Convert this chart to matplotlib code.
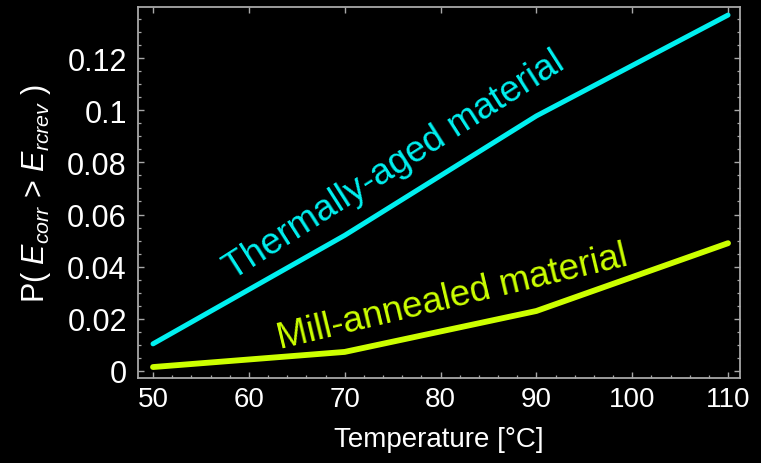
import numpy as np
import matplotlib
matplotlib.use('Agg')
import matplotlib.pyplot as plt
from matplotlib.ticker import MultipleLocator

# данные
temps = [50, 70, 90, 110]
p_aged = [0.0104, 0.052, 0.0978, 0.1365]
p_annealed = [0.0015, 0.0073, 0.023, 0.049]

x_ticks = [50, 60, 70, 80, 90, 100, 110]
y_ticks = [0, 0.02, 0.04, 0.06, 0.08, 0.1, 0.12]
y_tick_labels = ['0', '0.02', '0.04', '0.06', '0.08', '0.1', '0.12']

plt.rcParams['font.family'] = ['Liberation Sans', 'DejaVu Sans']
plt.rcParams['mathtext.fontset'] = 'custom'
plt.rcParams['mathtext.rm'] = 'Liberation Sans'
plt.rcParams['mathtext.it'] = 'Liberation Sans:italic'

W, H = 761, 464
fig = plt.figure(figsize=(W / 100, H / 100), dpi=100, facecolor='black')
ax = fig.add_axes([0.1813, 0.1832, 0.9724 - 0.1813, 0.9828 - 0.1832])
ax.set_facecolor('black')

ax.plot(temps, p_aged, color='#00F0F0', lw=3.6, solid_capstyle='round')
ax.plot(temps, p_annealed, color='#CCFF00', lw=4.2, solid_capstyle='round')

ax.set_xlim(48.43, 111.25)
ax.set_ylim(-0.0027, 0.1396)

ax.set_xticks(x_ticks)
ax.set_yticks(y_ticks)
ax.set_yticklabels(y_tick_labels)
ax.xaxis.set_minor_locator(MultipleLocator(2))
ax.yaxis.set_minor_locator(MultipleLocator(0.005))

frame = '#a8a8a8'
for s in ax.spines.values():
    s.set_color(frame)
    s.set_linewidth(1.3)

ax.tick_params(which='both', direction='in', colors=frame, top=True, right=True)
ax.tick_params(which='major', length=4.5, width=1.0)
ax.tick_params(which='minor', length=2.2, width=0.9, top=False)
ax.tick_params(axis='x', labelsize=20, labelcolor='white', pad=6)
ax.tick_params(axis='y', labelsize=22, labelcolor='white', pad=8)

ax.set_xlabel('Temperature [°C]', color='white', fontsize=20, labelpad=10)
ax.set_ylabel(r'P( $E_{corr}$ > $E_{rcrev}$ )', color='white', fontsize=22, labelpad=10)

# подписи кривых (положение в пикселях, от верхнего края)
ax.text(394 / W, 1 - 166 / H, 'Thermally-aged material', color='#00F0F0',
        fontsize=26.5, rotation=32.5, ha='center', va='center',
        transform=fig.transFigure, rotation_mode='anchor')
ax.text(452 / W, 1 - 298 / H, 'Mill-annealed material', color='#CCFF00',
        fontsize=26.5, rotation=13.5, ha='center', va='center',
        transform=fig.transFigure, rotation_mode='anchor')

fig.savefig('out.png', dpi=100, facecolor='black')
